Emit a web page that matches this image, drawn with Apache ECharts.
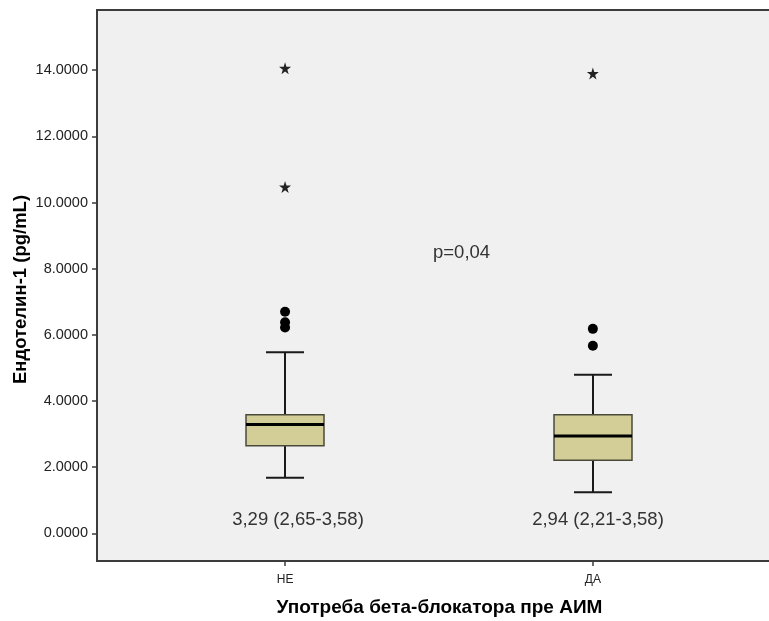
<!DOCTYPE html>
<html>
<head>
<meta charset="utf-8">
<script src="https://cdn.jsdelivr.net/npm/echarts@6/dist/echarts.min.js"></script>
<style>
  html, body { margin: 0; padding: 0; background: #ffffff; }
  #chart { width: 769px; height: 621px; }
</style>
</head>
<body>
<div id="chart"></div>
<script>
// Group labels and their positions on the horizontal axis
const categories = ['НЕ', 'ДА'];
const groupPositions = [1, 2];

// Box plot summaries per group (pg/mL)
const whiskerLow = [1.68, 1.24];
const q1 = [2.65, 2.21];
const median = [3.29, 2.94];
const q3 = [3.58, 3.58];
const whiskerHigh = [5.47, 4.79];

// Outliers (circles) and extreme values (stars)
const outliers = [[6.70, 6.38, 6.22], [6.18, 5.67]];
const extremes = [[14.06, 10.47], [13.90]];

// Value axis ticks
const yTicks = [0, 2, 4, 6, 8, 10, 12, 14];

const pValueText = 'p=0,04';
const yTitle = 'Ендотелин-1 (pg/mL)';
const xTitle = 'Употреба бета-блокатора пре АИМ';

const FONT = "'Liberation Sans', Arial, Helvetica, sans-serif";
const fmt = v => v.toFixed(2).replace('.', ',');
const summaryText = categories.map((c, i) => `${fmt(median[i])} (${fmt(q1[i])}-${fmt(q3[i])})`);

const boxData = categories.map((c, i) => [groupPositions[i], whiskerLow[i], q1[i], median[i], q3[i], whiskerHigh[i], i]);
const outlierData = [];
outliers.forEach((arr, i) => arr.forEach(v => outlierData.push([groupPositions[i], v])));
const extremeData = [];
extremes.forEach((arr, i) => arr.forEach(v => extremeData.push([groupPositions[i], v])));

const BOX_HALF = 39;
const CAP_HALF = 19;
const SUMMARY_SHIFT = [13, 5];

const chart = echarts.init(document.getElementById('chart'), null, { renderer: 'canvas' });

chart.setOption({
  animation: false,
  backgroundColor: '#ffffff',
  textStyle: { fontFamily: FONT },
  grid: {
    left: 97, top: 10, right: -3, bottom: 60,
    outerBoundsMode: 'none',
    containLabel: false,
    show: true,
    backgroundColor: '#f0f0f0',
    borderColor: '#3c3c3c',
    borderWidth: 2
  },
  xAxis: {
    type: 'value',
    min: 0.389,
    max: 2.582,
    name: xTitle,
    nameLocation: 'middle',
    nameGap: 37,
    nameMoveOverlap: false,
    nameTextStyle: { fontFamily: FONT, fontSize: 19, fontWeight: 'bold', color: '#000', padding: [0, 0, 0, 10] },
    splitLine: { show: false },
    axisLine: { show: false, onZero: false },
    axisTick: {
      show: true, length: 5, customValues: groupPositions,
      lineStyle: { color: '#3c3c3c', width: 1.5 }
    },
    axisLabel: {
      customValues: groupPositions,
      margin: 13,
      fontFamily: FONT, fontSize: 12, color: '#222',
      formatter: v => categories[groupPositions.indexOf(v)]
    }
  },
  yAxis: {
    type: 'value',
    min: -0.838,
    max: 15.82,
    name: yTitle,
    nameLocation: 'middle',
    nameGap: 67,
    nameMoveOverlap: false,
    nameTextStyle: { fontFamily: FONT, fontSize: 18.5, fontWeight: 'bold', color: '#000', padding: [0, 8, 0, 0] },
    splitLine: { show: false },
    axisLine: { show: false, onZero: false },
    axisTick: {
      show: true, length: 5, customValues: yTicks,
      lineStyle: { color: '#3c3c3c', width: 1.5 }
    },
    axisLabel: {
      customValues: yTicks,
      margin: 9,
      fontFamily: FONT, fontSize: 14.5, color: '#222',
      formatter: v => v.toFixed(4)
    }
  },
  graphic: [{
    type: 'text',
    left: 433,
    top: 243,
    style: { text: pValueText, font: `18.5px ${FONT}`, fill: '#333' }
  }],
  series: [
    {
      type: 'custom',
      data: boxData,
      encode: { x: 0, y: [1, 2, 3, 4, 5] },
      renderItem(params, api) {
        const x = api.value(0);
        const idx = api.value(6);
        const pLow = api.coord([x, api.value(1)]);
        const pQ1 = api.coord([x, api.value(2)]);
        const pMed = api.coord([x, api.value(3)]);
        const pQ3 = api.coord([x, api.value(4)]);
        const pHigh = api.coord([x, api.value(5)]);
        const pBase = api.coord([x, 0]);
        const cx = Math.round(pMed[0]);
        const whisker = { stroke: '#1a1a1a', lineWidth: 2 };
        return {
          type: 'group',
          children: [
            { type: 'line', shape: { x1: cx, y1: pQ3[1], x2: cx, y2: pHigh[1] }, style: whisker },
            { type: 'line', shape: { x1: cx, y1: pQ1[1], x2: cx, y2: pLow[1] }, style: whisker },
            { type: 'line', shape: { x1: cx - CAP_HALF, y1: pHigh[1], x2: cx + CAP_HALF, y2: pHigh[1] }, style: whisker },
            { type: 'line', shape: { x1: cx - CAP_HALF, y1: pLow[1], x2: cx + CAP_HALF, y2: pLow[1] }, style: whisker },
            {
              type: 'rect',
              shape: { x: cx - BOX_HALF, y: pQ3[1], width: BOX_HALF * 2, height: pQ1[1] - pQ3[1] },
              style: { fill: '#d3ce97', stroke: '#4a4a3a', lineWidth: 1.5 }
            },
            { type: 'line', shape: { x1: cx - BOX_HALF, y1: pMed[1], x2: cx + BOX_HALF, y2: pMed[1] }, style: { stroke: '#000', lineWidth: 3 } },
            {
              type: 'text',
              x: cx + SUMMARY_SHIFT[idx],
              y: pBase[1] - 13,
              style: {
                text: summaryText[idx],
                font: `18.5px ${FONT}`,
                fill: '#333',
                align: 'center',
                verticalAlign: 'middle'
              }
            }
          ]
        };
      }
    },
    {
      type: 'scatter',
      data: outlierData,
      symbol: 'circle',
      symbolSize: 10,
      itemStyle: { color: '#000', opacity: 1 }
    },
    {
      type: 'scatter',
      data: extremeData,
      symbol: 'path://M50,0 L61,35 L98,35 L68,57 L79,91 L50,70 L21,91 L32,57 L2,35 L39,35 Z',
      symbolSize: 12,
      itemStyle: { color: '#222', opacity: 1 }
    }
  ]
});
</script>
</body>
</html>
